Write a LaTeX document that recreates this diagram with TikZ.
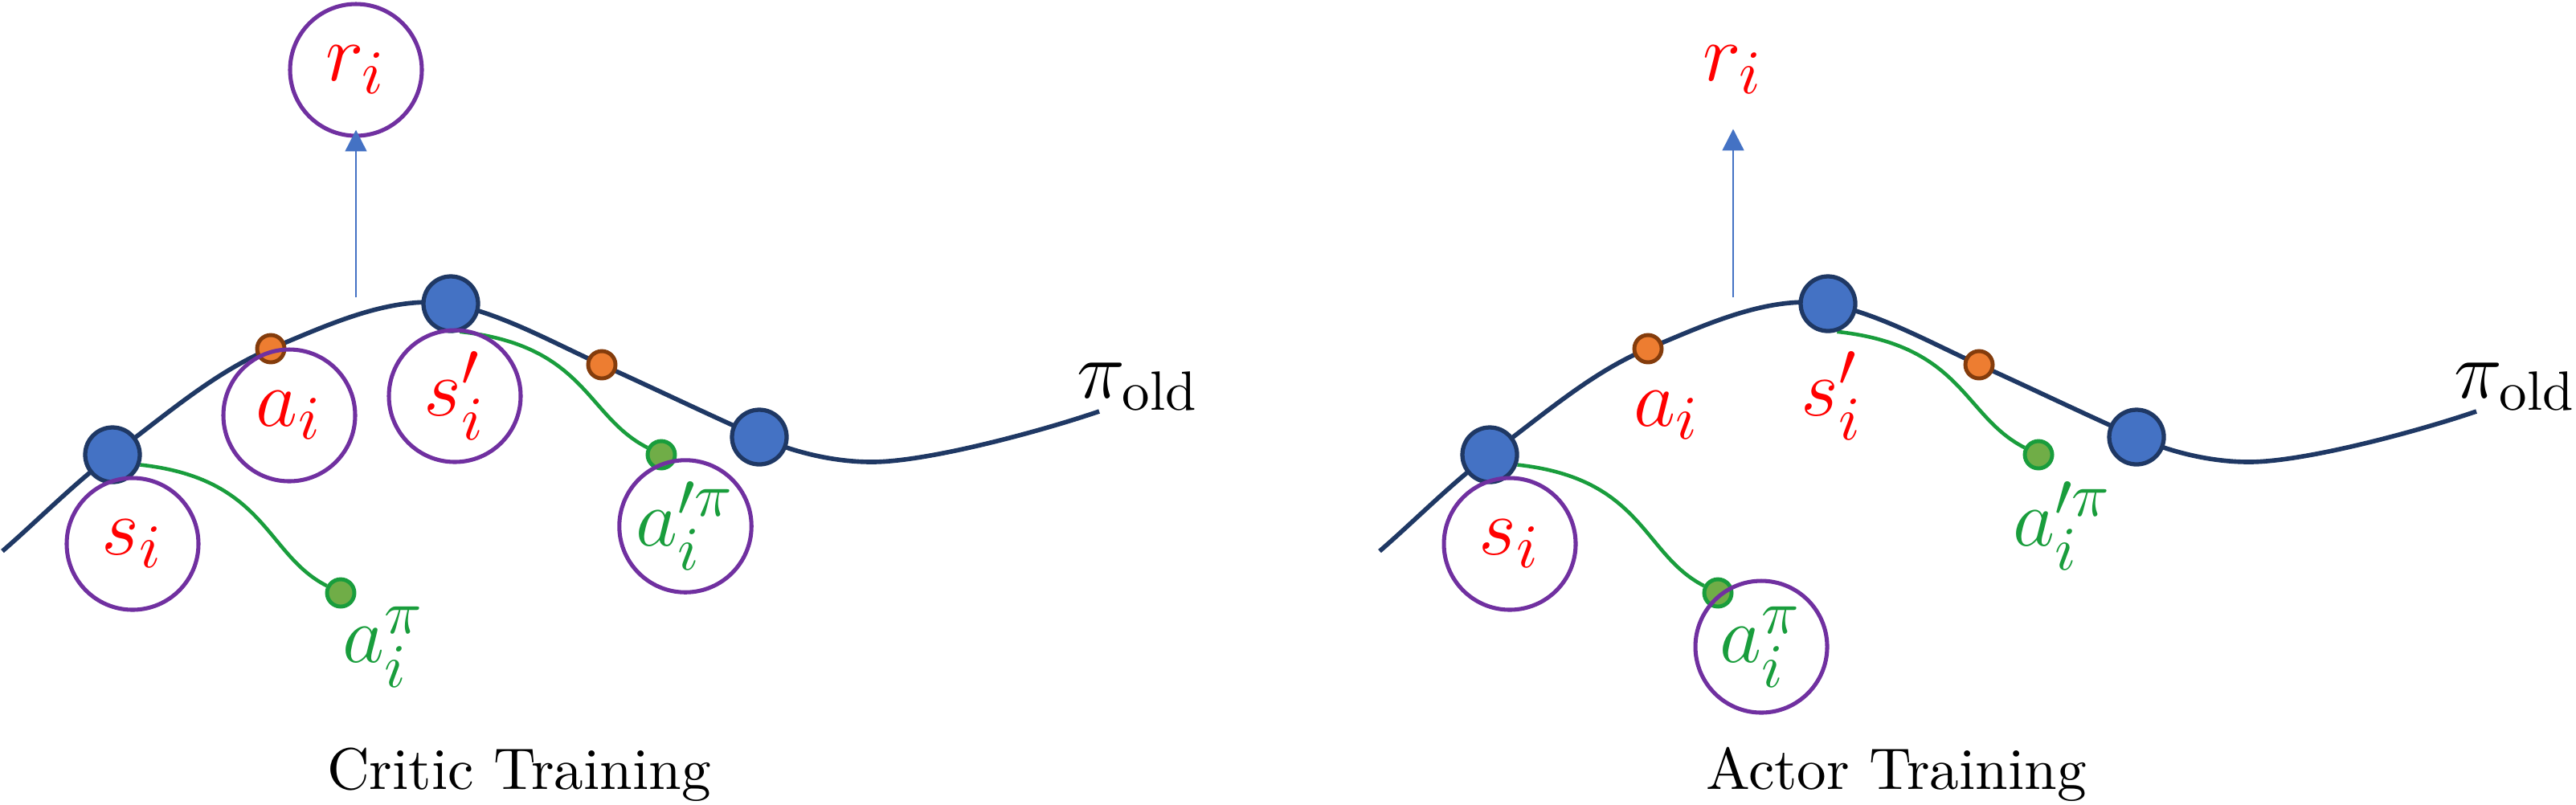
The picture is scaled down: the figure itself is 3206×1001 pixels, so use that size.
\documentclass[tikz,border=0pt]{standalone}
\usepackage{amsmath}
\usepackage{tikz}
\usetikzlibrary{arrows.meta,backgrounds}

\definecolor{navyline}{RGB}{31,56,100}
\definecolor{bluefill}{RGB}{68,114,196}
\definecolor{orangefill}{RGB}{237,125,49}
\definecolor{brownline}{RGB}{132,60,12}
\definecolor{greenfill}{RGB}{112,173,71}
\definecolor{greenline}{RGB}{25,157,60}
\definecolor{ringpurple}{RGB}{112,48,160}

\tikzset{
  statedot/.style={circle, draw=navyline, fill=bluefill, line width=0.75pt, minimum size=3.4mm, inner sep=0pt},
  actdot/.style={circle, draw=brownline, fill=orangefill, line width=0.7pt, minimum size=1.7mm, inner sep=0pt},
  poldot/.style={circle, draw=greenline, fill=greenfill, line width=0.7pt, minimum size=1.7mm, inner sep=0pt},
  lbl/.style={circle, minimum size=8.2mm, inner sep=0pt, font=\fontsize{15}{18}\selectfont},
  ring/.style={draw=ringpurple, line width=0.72pt},
  plain/.style={},
  traj/.style={draw=navyline, line width=0.8pt},
  branch/.style={draw=greenline, line width=0.65pt},
}

\begin{document}
\begin{tikzpicture}[x=0.05mm, y=-0.05mm]
	\useasboundingbox (0,0) rectangle (3206,1001);
	\foreach \p/\dx/\stage/\mk/\mkpi in {c/0/Critic/ring/plain, a/1714/Actor/plain/ring}{
	\begin{scope}[shift={(\dx,0)}]
		% free ends of the trajectory
		\coordinate (\p-start) at (3,686);
		\coordinate (\p-dip) at (1085,575);
		\coordinate (\p-end) at (1368,512);
		\coordinate (\p-rbase) at (443,370);
		% states, actions, policy actions
		\node[statedot] (\p-s1) at (140,566) {};
		\node[statedot] (\p-s2) at (561,378) {};
		\node[statedot] (\p-s3) at (945,544) {};
		\node[actdot] (\p-o1) at (337,434) {};
		\node[actdot] (\p-o2) at (749,454) {};
		\node[poldot] (\p-g1) at (424,738) {};
		\node[poldot] (\p-g2) at (823,566) {};
		% old policy trajectory and policy branches
		\begin{scope}[on background layer]
			\draw[traj] (\p-start) .. controls +(45,-39) and +(-46,34) .. (\p-s1.center)
				.. controls +(66,-49) and +(-70,29) .. (\p-o1.center)
				.. controls +(70,-29) and +(-75,-11) .. (\p-s2.center)
				.. controls +(65,13) and +(-60,-27) .. (\p-o2.center)
				.. controls +(60,27) and +(-55,-24) .. (\p-s3.center)
				.. controls +(45,20) and +(-45,0) .. (\p-dip)
				.. controls +(70,0) and +(-70,24) .. (\p-end);
			\draw[branch] (\p-s1.-20) .. controls +(157,17) and +(-94,-48) .. (\p-g1);
			\draw[branch] (\p-s2.-72) .. controls +(157,17) and +(-94,-48) .. (\p-g2);
		\end{scope}
		% labels
		\node[lbl, ring, text=red] (\p-si) at (165,677) {$s_i$};
		\node[lbl, \mk, text=red] (\p-ai) at (360,517) {$a_i$};
		\node[lbl, \mk, text=red] (\p-sn) at (566,493) {$s'_i$};
		\node[lbl, \mk, text=greenline] (\p-an) at (853,655) {$a'^{\pi}_i$};
		\node[lbl, \mkpi, text=greenline] (\p-ap) at (478,805) {$a^{\pi}_i$};
		\node[lbl, \mk, text=red] (\p-r) at (443,87) {$r_i$};
		\node[anchor=base west, inner sep=0pt, font=\fontsize{14}{17}\selectfont] (\p-pi) at (1339,495) {$\pi_{\text{old}}$};
		\node[anchor=base, font=\fontsize{10.4}{12.5}\selectfont] (\p-title) at (646,982) {\stage\ Training};
		% reward arrow
		\draw[-{Triangle[length=3.8pt,width=3.8pt]}, draw=bluefill, line width=0.35pt, shorten >=-1.4pt] (\p-rbase) -- (\p-r);
	\end{scope}
	}
\end{tikzpicture}
\end{document}
